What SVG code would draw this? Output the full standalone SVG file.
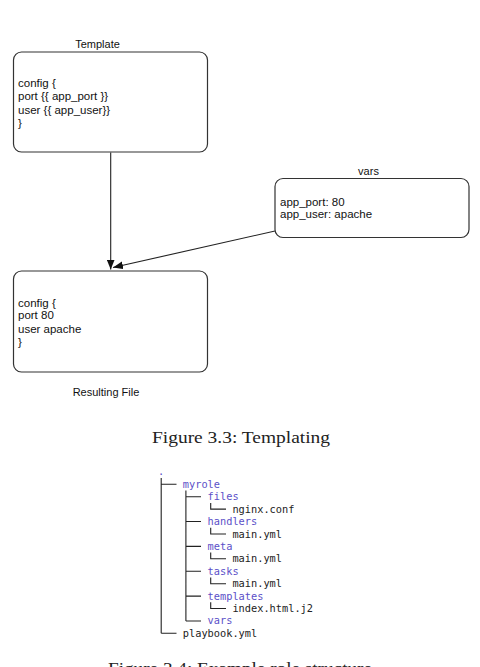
<svg xmlns="http://www.w3.org/2000/svg" width="480" height="667" viewBox="0 0 480 667">
<defs>
<style>
.box{fill:#fff;stroke:#333;stroke-width:1.2}
.lbl{font-family:"Liberation Sans",Arial,sans-serif;font-size:11px;fill:#111}
.body{font-family:"Liberation Sans",Arial,sans-serif;font-size:11.5px;fill:#111}
.edge{stroke:#222;stroke-width:1.1;fill:none}
.cap{font-family:"Liberation Serif","Times New Roman",serif;font-size:17px;fill:#222}
.tree{stroke:#222;stroke-width:1.1;fill:none}
.dir{font-family:"DejaVu Sans Mono",monospace;font-size:10.3px;fill:#5b50c8}
.file{font-family:"DejaVu Sans Mono",monospace;font-size:10.3px;fill:#222}
</style>
<marker id="ah" viewBox="0 0 10 8" refX="10" refY="4" markerWidth="10" markerHeight="8" markerUnits="userSpaceOnUse" orient="auto">
<path d="M0,0 L10,4 L0,8 z" fill="#111"/>
</marker>
</defs>

<g id="template">
<text class="lbl" x="97.5" y="48" text-anchor="middle">Template</text>
<rect class="box" x="13.5" y="52" width="194" height="100" rx="8"/>
<text class="body" x="18" y="86.8">config {</text>
<text class="body" x="18" y="100.2">port {{ app_port }}</text>
<text class="body" x="18" y="113.8">user {{ app_user}}</text>
<text class="body" x="18" y="127.2">}</text>
</g>

<g id="vars">
<text class="lbl" x="368.5" y="174.5" text-anchor="middle">vars</text>
<rect class="box" x="275" y="178.5" width="194" height="59" rx="8"/>
<text class="body" x="280" y="205.8">app_port: 80</text>
<text class="body" x="280" y="218.3">app_user: apache</text>
</g>

<g id="result">
<rect class="box" x="13.5" y="271" width="194" height="101" rx="8"/>
<text class="body" x="18" y="306.5">config {</text>
<text class="body" x="18" y="319.3">port 80</text>
<text class="body" x="18" y="333">user apache</text>
<text class="body" x="18" y="346">}</text>
<text class="lbl" x="106" y="396" text-anchor="middle">Resulting File</text>
</g>

<g id="connectors">
<line class="edge" x1="110.7" y1="152.5" x2="110.7" y2="269.5" marker-end="url(#ah)"/>
<line class="edge" x1="275" y1="231" x2="113" y2="267.5" marker-end="url(#ah)"/>
</g>

<text class="cap" x="152" y="443" textLength="178" lengthAdjust="spacingAndGlyphs">Figure 3.3: Templating</text>

<g id="tree">
<path class="tree" d="M161.2,478 V633.3 M161.2,484.3 H176.5 M161.2,633.3 H176.5
M185.9,490.5 V621 M185.9,496.7 H201 M185.9,521.5 H201 M185.9,546.4 H201 M185.9,571.2 H201 M185.9,596.1 H201 M185.9,621 H201
M210.7,502.9 V509.1 H226 M210.7,527.8 V534 H226 M210.7,552.6 V558.8 H226 M210.7,577.5 V583.7 H226 M210.7,602.3 V608.5 H226"/>
<text class="dir" x="158.1" y="475">.</text>
<text class="dir" x="182.8" y="487.8">myrole</text>
<text class="dir" x="207.6" y="500.2">files</text>
<text class="file" x="232.4" y="512.6">nginx.conf</text>
<text class="dir" x="207.6" y="525">handlers</text>
<text class="file" x="232.4" y="537.5">main.yml</text>
<text class="dir" x="207.6" y="549.9">meta</text>
<text class="file" x="232.4" y="562.3">main.yml</text>
<text class="dir" x="207.6" y="574.7">tasks</text>
<text class="file" x="232.4" y="587.2">main.yml</text>
<text class="dir" x="207.6" y="599.6">templates</text>
<text class="file" x="232.4" y="612">index.html.j2</text>
<text class="dir" x="207.6" y="624.4">vars</text>
<text class="file" x="182.8" y="636.8">playbook.yml</text>
</g>

<text class="cap" x="108" y="674" textLength="264" lengthAdjust="spacingAndGlyphs">Figure 3.4: Example role structure</text>
</svg>
